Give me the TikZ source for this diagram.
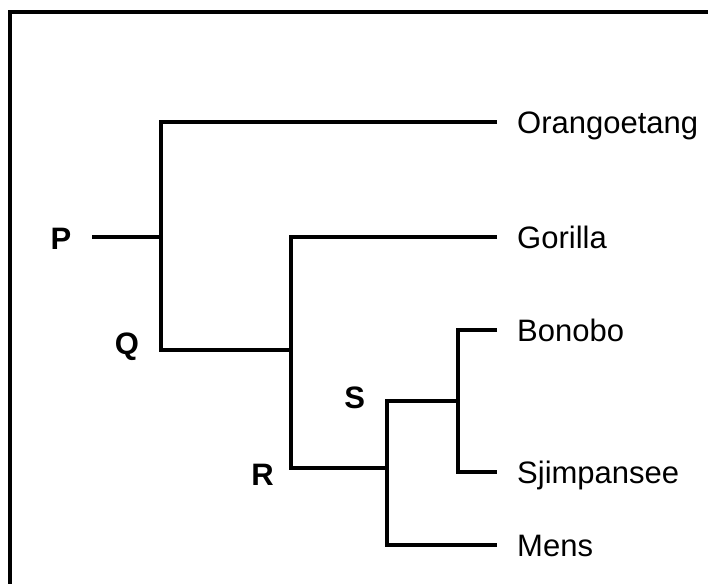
\documentclass[tikz,border=0pt]{standalone}
\usepackage{fontspec}
\setmainfont{Liberation Sans}
\begin{document}
\begin{tikzpicture}[x=1pt,y=-1pt,
  branch/.style = {line width=3.8pt,line join=miter},
  leaf/.style = {anchor=base west,inner sep=0pt,font=\fontsize{31}{37}\selectfont},
  tag/.style = {anchor=base,inner sep=0pt,font=\fontsize{31}{37}\selectfont\bfseries}]
\useasboundingbox (0,0) rectangle (708,583);
% frame, open to the right and below
\draw[line width=4pt] (10,600) -- (10,12) -- (720,12);
% leaves
\foreach \name/\y [count=\j] in {Orangoetang/122, Gorilla/237, Bonobo/330, Sjimpansee/472, Mens/545}
  {\coordinate (l\j) at (497,\y);
   \node[leaf] (name\j) at (517,{\y+11}) {\name};}
% branch points
\coordinate (p)  at (92,237);
\coordinate (pj) at (161,237);
\coordinate (q)  at (161,350);
\coordinate (rq) at (291,350);
\coordinate (r)  at (291,468);
\coordinate (sr) at (387,468);
\coordinate (s)  at (387,401);
\coordinate (sb) at (387,545);
\coordinate (sj) at (458,401);
\coordinate (sjb) at (458,472);
\draw[branch] (p) -- (pj);
\draw[branch] (l1) -| (q) -- (rq);
\draw[branch] (l2) -| (r) -- (sr);
\draw[branch] (sj) -- (s) -- (sb) -- (l5);
\draw[branch] (l3) -| (sjb) -- (l4);
% labels of the branch points
\foreach \t/\x/\y in {P/61/249.5, Q/127/354.5, R/262.5/485, S/354.7/408.5}
  \node[tag] (tag\t) at (\x,\y) {\t};
\end{tikzpicture}
\end{document}
